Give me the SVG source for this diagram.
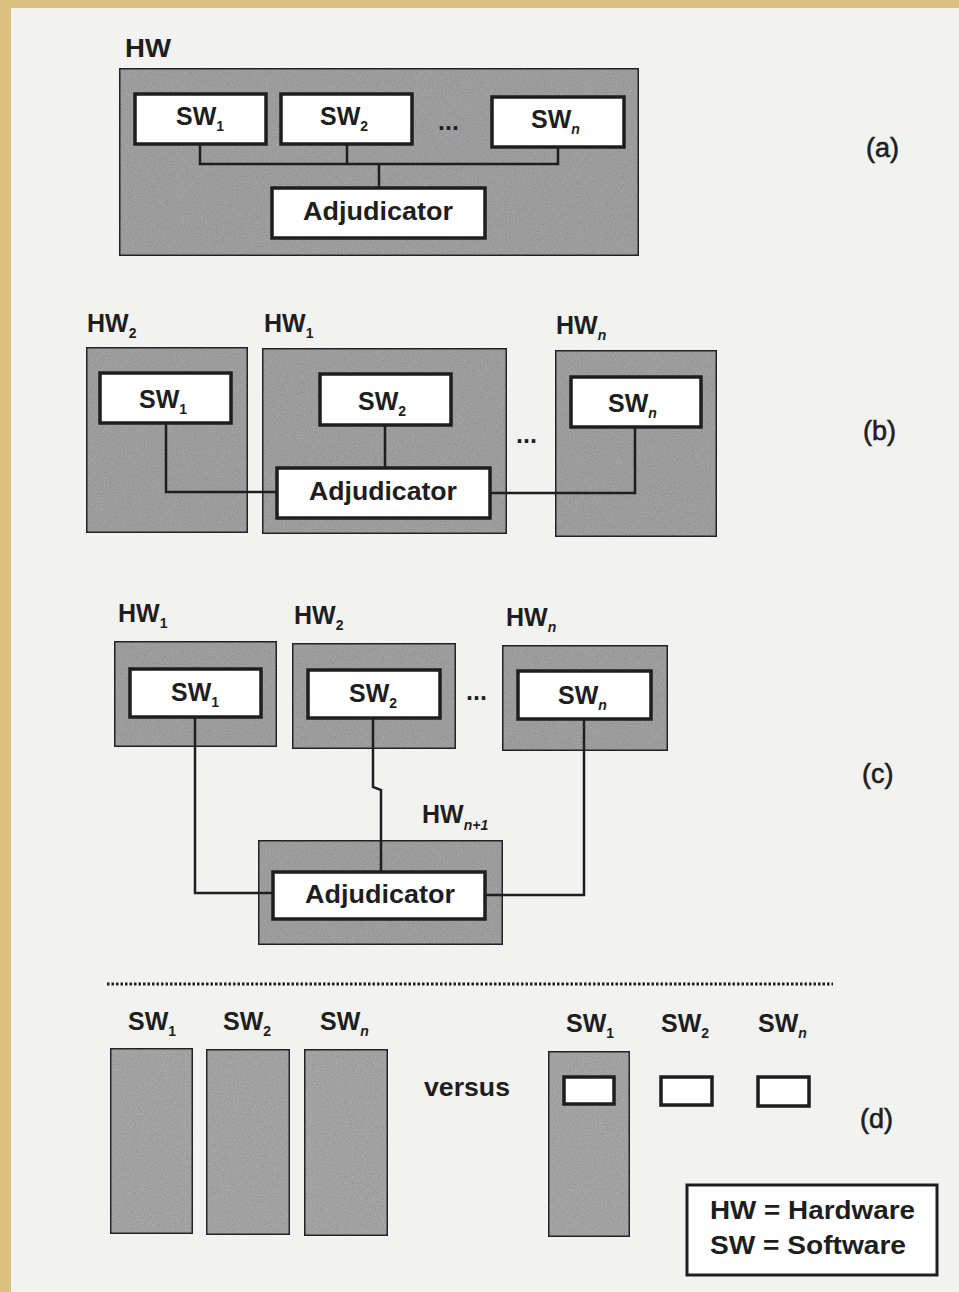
<svg xmlns="http://www.w3.org/2000/svg" width="959" height="1292" viewBox="0 0 959 1292">
<defs>
<filter id="grain" x="0" y="0" width="100%" height="100%">
<feTurbulence type="fractalNoise" baseFrequency="0.9" numOctaves="2" seed="4" result="n"/>
<feColorMatrix in="n" type="matrix" values="0 0 0 0 0  0 0 0 0 0  0 0 0 0 0  0 0 0 0.4 0" result="dk"/>
<feComposite in="dk" in2="SourceGraphic" operator="in" result="d2"/>
<feMerge><feMergeNode in="SourceGraphic"/><feMergeNode in="d2"/></feMerge>
</filter>
<style>
.hw{fill:#adadad;stroke:#2b2b2b;stroke-width:3;filter:url(#grain)}
.bar{fill:#b3b3b3;stroke:#2b2b2b;stroke-width:3;filter:url(#grain)}
.sw{fill:#ffffff;stroke:#1e1e1e;stroke-width:3.5}
.ln{fill:none;stroke:#1e1e1e;stroke-width:2.5}
text{font-family:"Liberation Sans",Arial,sans-serif;fill:#1e1e1e;font-weight:bold}
.t{font-size:25px}
.s{font-size:14px}
.lab{font-size:27px;font-weight:normal;stroke:#1e1e1e;stroke-width:0.6}
</style>
</defs>
<rect x="0" y="0" width="959" height="1292" fill="#f2f2f0"/>
<rect x="0" y="0" width="959" height="8" fill="#dcc07e"/>
<rect x="0" y="0" width="11" height="1292" fill="#dcc07e"/>

<!-- panel (a) -->
<g id="a-hw">
<rect class="hw" x="119" y="68" width="520" height="188"/>
<text class="t" x="125" y="57" textLength="46" lengthAdjust="spacingAndGlyphs">HW</text>
</g>
<g id="a-conn">
<polyline class="ln" points="200,144 200,164 558,164 558,147"/>
<line class="ln" x1="347" y1="144" x2="347" y2="164"/>
<line class="ln" x1="379" y1="164" x2="379" y2="188"/>
</g>
<g id="a-sw1"><rect class="sw" x="135" y="94" width="131" height="50"/><text class="t" x="176" y="125">SW<tspan class="s" dy="6">1</tspan></text></g>
<g id="a-sw2"><rect class="sw" x="281" y="94" width="131" height="50"/><text class="t" x="320" y="125">SW<tspan class="s" dy="6">2</tspan></text></g>
<text class="t" x="438" y="130">...</text>
<g id="a-swn"><rect class="sw" x="492" y="97" width="132" height="50"/><text class="t" x="531" y="128">SW<tspan class="s" dy="6" font-style="italic">n</tspan></text></g>
<g id="a-adj"><rect class="sw" x="272" y="188" width="213" height="50"/><text class="t" x="303" y="220" textLength="150" lengthAdjust="spacingAndGlyphs">Adjudicator</text></g>
<text class="lab" x="866" y="157">(a)</text>

<!-- panel (b) -->
<g id="b-hw2"><rect class="hw" x="86" y="347" width="162" height="186"/><text class="t" x="87" y="332">HW<tspan class="s" dy="6">2</tspan></text></g>
<g id="b-hw1"><rect class="hw" x="262" y="348" width="245" height="186"/><text class="t" x="264" y="332">HW<tspan class="s" dy="6">1</tspan></text></g>
<g id="b-hwn"><rect class="hw" x="555" y="350" width="162" height="187"/><text class="t" x="556" y="334">HW<tspan class="s" dy="6" font-style="italic">n</tspan></text></g>
<g id="b-conn">
<polyline class="ln" points="166,423 166,492 277,492"/>
<line class="ln" x1="385" y1="425" x2="385" y2="468"/>
<polyline class="ln" points="490,493 635,493 635,427"/>
</g>
<g id="b-sw1"><rect class="sw" x="100" y="373" width="131" height="50"/><text class="t" x="139" y="408">SW<tspan class="s" dy="6">1</tspan></text></g>
<g id="b-sw2"><rect class="sw" x="320" y="374" width="131" height="51"/><text class="t" x="358" y="410">SW<tspan class="s" dy="6">2</tspan></text></g>
<g id="b-swn"><rect class="sw" x="571" y="377" width="130" height="50"/><text class="t" x="608" y="412">SW<tspan class="s" dy="6" font-style="italic">n</tspan></text></g>
<g id="b-adj"><rect class="sw" x="277" y="468" width="213" height="50"/><text class="t" x="309" y="500" textLength="148" lengthAdjust="spacingAndGlyphs">Adjudicator</text></g>
<text class="t" x="516" y="443">...</text>
<text class="lab" x="863" y="440">(b)</text>

<!-- panel (c) -->
<g id="c-hw1"><rect class="hw" x="114" y="641" width="163" height="106"/><text class="t" x="118" y="622">HW<tspan class="s" dy="6">1</tspan></text></g>
<g id="c-hw2"><rect class="hw" x="292" y="643" width="164" height="106"/><text class="t" x="294" y="624">HW<tspan class="s" dy="6">2</tspan></text></g>
<g id="c-hwn"><rect class="hw" x="502" y="645" width="166" height="106"/><text class="t" x="506" y="626">HW<tspan class="s" dy="6" font-style="italic">n</tspan></text></g>
<g id="c-hwn1"><rect class="hw" x="258" y="840" width="245" height="105"/><text class="t" x="422" y="823">HW<tspan class="s" dy="7" font-style="italic">n+1</tspan></text></g>
<g id="c-conn">
<polyline class="ln" points="195,717 195,893 274,893"/>
<polyline class="ln" points="373,718 373,787 381,790 381,872"/>
<polyline class="ln" points="485,895 584,895 584,719"/>
</g>
<g id="c-sw1"><rect class="sw" x="130" y="669" width="131" height="48"/><text class="t" x="171" y="701">SW<tspan class="s" dy="6">1</tspan></text></g>
<g id="c-sw2"><rect class="sw" x="308" y="670" width="132" height="48"/><text class="t" x="349" y="702">SW<tspan class="s" dy="6">2</tspan></text></g>
<g id="c-swn"><rect class="sw" x="518" y="671" width="133" height="48"/><text class="t" x="558" y="704">SW<tspan class="s" dy="6" font-style="italic">n</tspan></text></g>
<g id="c-adj"><rect class="sw" x="273" y="872" width="212" height="47"/><text class="t" x="305" y="903" textLength="150" lengthAdjust="spacingAndGlyphs">Adjudicator</text></g>
<text class="t" x="466" y="700">...</text>
<text class="lab" x="862" y="783">(c)</text>

<!-- panel (d) -->
<line x1="107" y1="984" x2="833" y2="984" stroke="#1e1e1e" stroke-width="3" stroke-dasharray="2.5 2"/>
<g id="d-bar1"><rect class="bar" x="110" y="1048" width="83" height="186"/><text class="t" x="128" y="1030">SW<tspan class="s" dy="6">1</tspan></text></g>
<g id="d-bar2"><rect class="bar" x="206" y="1049" width="84" height="186"/><text class="t" x="223" y="1030">SW<tspan class="s" dy="6">2</tspan></text></g>
<g id="d-bar3"><rect class="bar" x="304" y="1049" width="84" height="187"/><text class="t" x="320" y="1030">SW<tspan class="s" dy="6" font-style="italic">n</tspan></text></g>
<text class="t" x="424" y="1096" textLength="86" lengthAdjust="spacingAndGlyphs">versus</text>
<g id="d-hw"><rect class="bar" x="548" y="1051" width="82" height="186"/></g>
<g id="d-sw1"><rect class="sw" x="564" y="1077" width="50" height="27"/><text class="t" x="566" y="1032">SW<tspan class="s" dy="6">1</tspan></text></g>
<g id="d-sw2"><rect class="sw" x="661" y="1077" width="51" height="28"/><text class="t" x="661" y="1032">SW<tspan class="s" dy="6">2</tspan></text></g>
<g id="d-swn"><rect class="sw" x="758" y="1077" width="51" height="29"/><text class="t" x="758" y="1032">SW<tspan class="s" dy="6" font-style="italic">n</tspan></text></g>
<text class="lab" x="860" y="1128">(d)</text>

<g id="legend">
<rect x="687" y="1185" width="250" height="90" fill="#ffffff" stroke="#1e1e1e" stroke-width="3"/>
<text class="t" x="710" y="1219" textLength="205" lengthAdjust="spacingAndGlyphs">HW = Hardware</text>
<text class="t" x="710" y="1254" textLength="196" lengthAdjust="spacingAndGlyphs">SW = Software</text>
</g>
</svg>
